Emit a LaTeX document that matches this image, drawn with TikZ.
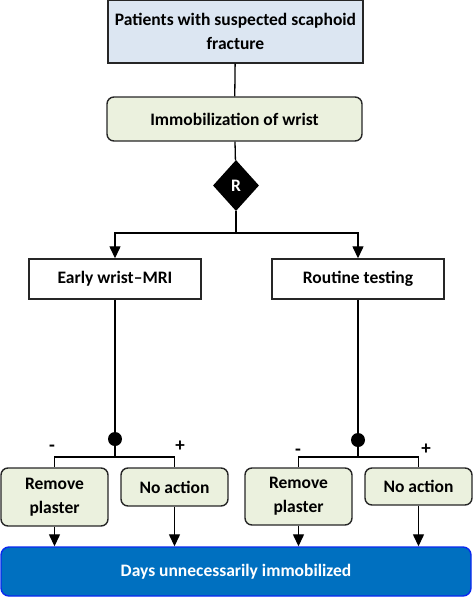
\documentclass[tikz,border=0pt]{standalone}
\usepackage{fontspec}
\setmainfont{Carlito}
\usetikzlibrary{arrows.meta,shapes.geometric,calc}

\definecolor{caixaazul}{HTML}{DCE6F2}
\definecolor{caixaverde}{HTML}{EBF1DE}
\definecolor{azulforte}{HTML}{0070C0}
\definecolor{bordaazul}{HTML}{0A28F0}

\begin{document}
\begin{tikzpicture} [> = {Triangle[width=11pt,length=12pt]}, x=1pt, y=-1pt, font=\bfseries\fontsize{17.5}{24}\selectfont]
            % Estilos para os nós
            \tikzstyle{caixa}=[rectangle, draw=black!85, line width=1.4pt, inner sep=2pt, align=center]
            \tikzstyle{redonda}=[caixa, rounded corners=7pt, fill=caixaverde]
            \tikzstyle{ponto}=[circle, fill=black, inner sep=0pt, minimum size=14pt]
            \tikzstyle{sinal}=[inner sep=0pt, font=\bfseries\fontsize{19}{20}\selectfont]
            \tikzstyle{linha}=[line width=1.3pt]

            \useasboundingbox (0,0) rectangle (473,598);

            % Nós
            \node[caixa, fill=caixaazul, minimum width=255pt, minimum height=63pt] (pac) at (235.5,31.5) {Patients with suspected scaphoid\\fracture};
            \node[redonda, minimum width=255pt, minimum height=44pt] (imob) at (234.5,119) {Immobilization of wrist};
            \node[diamond, fill=black, text=white, inner sep=0pt, aspect=0.9, minimum width=46pt, minimum height=51pt] (r) at (236,185.5) {R};
            \coordinate (div) at (236,233);

            \node[caixa, minimum width=172pt, minimum height=40pt] (mri) at (115,279) {Early wrist--MRI};
            \node[caixa, minimum width=172pt, minimum height=40pt] (rot) at (358,279) {Routine testing};

            \node[ponto] (p1) at (115,439) {};
            \node[ponto] (p2) at (358,440) {};
            \coordinate (d1) at (115,457);
            \coordinate (d2) at (358,457);

            \node[redonda, minimum width=107pt, minimum height=58pt] (rem1) at (54.5,497) {Remove\\plaster};
            \node[redonda, minimum width=107pt, minimum height=38pt] (nada1) at (174.5,487) {No action};
            \node[redonda, minimum width=107pt, minimum height=57pt] (rem2) at (298.5,496.5) {Remove\\plaster};
            \node[redonda, minimum width=107pt, minimum height=37pt] (nada2) at (418.5,486.5) {No action};

            \node[sinal] (m1) at (52,448) {-};
            \node[sinal] (s1) at (180,446) {+};
            \node[sinal] (m2) at (298,452) {-};
            \node[sinal] (s2) at (426,449) {+};

            \node[caixa, rounded corners=8pt, fill=azulforte, draw=bordaazul, text=white, minimum width=470pt, minimum height=49pt] (dias) at (236,571.5) {Days unnecessarily immobilized};

            % Arestas
            \draw[linha] (pac) -- (imob);
            \draw[linha] (imob) -- (r);
            \draw[linha] (r) -- (div);
            \draw[->,linha] (div) -| (mri);
            \draw[->,linha] (div) -| (rot);
            \draw[linha] (mri) -- (p1);
            \draw[linha] (rot) -- (p2);
            \draw[linha] (p1) -- (d1);
            \draw[linha] (p2) -- (d2);
            \draw[linha] (d1) -| (rem1);
            \draw[linha] (d1) -| (nada1);
            \draw[linha] (d2) -| (rem2);
            \draw[linha] (d2) -| (nada2);
            \draw[->,linha] (rem1) -- (rem1 |- dias.north);
            \draw[->,linha] (nada1) -- (nada1 |- dias.north);
            \draw[->,linha] (rem2) -- (rem2 |- dias.north);
            \draw[->,linha] (nada2) -- (nada2 |- dias.north);
\end{tikzpicture}
\end{document}
